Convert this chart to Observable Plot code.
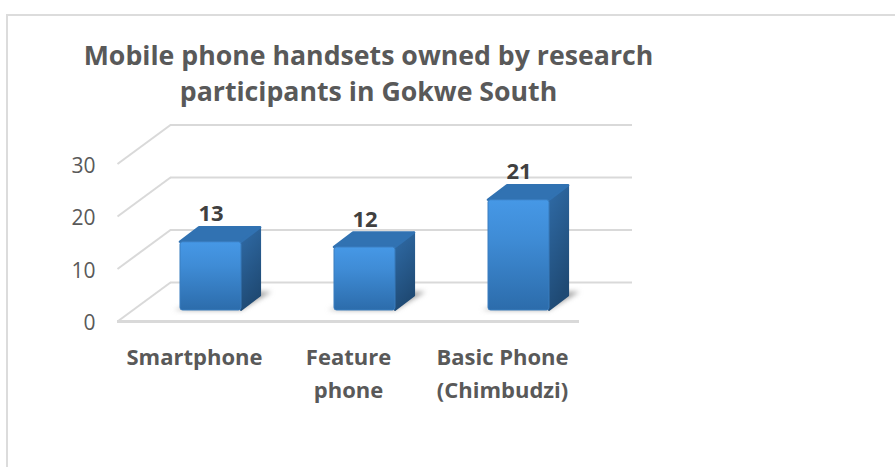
<!DOCTYPE html>
<html>
<head>
<meta charset="utf-8">
<script src="https://cdn.jsdelivr.net/npm/d3@7"></script>
<script src="https://cdn.jsdelivr.net/npm/@observablehq/plot@0.6"></script>
<style>
  html, body { margin: 0; padding: 0; background: #fff; overflow: hidden; }
  body { width: 895px; height: 467px; position: relative; }
  #frame { position: absolute; left: 6px; top: 14px; right: 0; bottom: 0;
           border-left: 2px solid #dcdcdc; border-top: 2px solid #dcdcdc; }
  #title { position: absolute; left: 0; top: 37px; width: 737px; margin: 0; text-align: center;
           font: 700 26.7px/36px "Open Sans", sans-serif; color: #595959; }
  #chart { position: absolute; left: 0; top: 108px; }
  #chart svg { display: block; }
</style>
</head>
<body>
<div id="frame"></div>
<h1 id="title">Mobile phone handsets owned by research<br>participants in Gokwe South</h1>
<div id="chart"></div>
<script>
// Handsets per category
const categories = ["Smartphone", "Feature\nphone", "Basic Phone\n(Chimbudzi)"];
const handsets = [13, 12, 21];
const yTicks = [0, 10, 20, 30];

// Oblique projection of the chart box, in scale units:
// x counts category slots, y counts handsets.
const wallDx = 0.344, wallDy = 7.43;     // depth of the floor
const barWidth = 0.396;                  // share of a slot
const barShiftX = 0.107, barShiftY = 2.1; // bars stand inside the floor
const barDx = 0.124, barDy = 2.76;       // depth of a bar

const bars = categories.map((name, i) => {
  const x1 = i + 0.5 + barShiftX - barWidth / 2;
  return {name, value: handsets[i], i, x1, x2: x1 + barWidth, y0: barShiftY, y1: barShiftY + handsets[i]};
});

// Side and top faces as two-point parallelograms per bar
const sideFaces = bars.flatMap(b => [
  {i: b.i, x: b.x2, y1: b.y0, y2: b.y1},
  {i: b.i, x: b.x2 + barDx, y1: b.y0 + barDy, y2: b.y1 + barDy}
]);
const topFaces = bars.flatMap(b => [
  {i: b.i, y: b.y1, x1: b.x1, x2: b.x2},
  {i: b.i, y: b.y1 + barDy, x1: b.x1 + barDx, x2: b.x2 + barDx}
]);
const shadows = bars.flatMap(b => [
  {i: b.i, y: b.y0, x1: b.x1 - 0.04, x2: b.x2},
  {i: b.i, y: b.y0 + barDy * 1.25, x1: b.x2, x2: b.x2 + barDx * 1.6}
]);

// Gradients for the shaded faces
function gradients() {
  const defs = d3.create("svg:defs");
  const add = (id, x2, y2, stops) => {
    const g = defs.append("linearGradient").attr("id", id)
      .attr("x1", 0).attr("y1", 0).attr("x2", x2).attr("y2", y2);
    stops.forEach(([o, c]) => g.append("stop").attr("offset", o).attr("stop-color", c));
  };
  add("face-front", 0, 1, [[0, "#4698e6"], [0.35, "#3f8cd6"], [1, "#2c6cab"]]);
  add("face-side", 0.3, 1, [[0, "#306ca8"], [1, "#1f4a74"]]);
  return defs.node();
}

const gridColor = "#d9d9d9";
const chart = Plot.plot({
  width: 895,
  height: 359,
  marginLeft: 117,
  marginRight: 263,
  marginTop: 16.5,
  marginBottom: 146,
  style: {fontFamily: '"Open Sans", sans-serif', background: "transparent", overflow: "visible"},
  x: {domain: [0, 3 + wallDx], axis: null},
  y: {domain: [0, 30 + wallDy], axis: null},
  marks: [
    gradients,
    // Back wall and side wall gridlines
    Plot.ruleY(yTicks, {y: d => d + wallDy, x1: wallDx, x2: 3 + wallDx, stroke: gridColor, strokeWidth: 2}),
    Plot.link(yTicks, {x1: 0, y1: d => d, x2: wallDx, y2: d => d + wallDy, stroke: gridColor, strokeWidth: 2}),
    // Front edge of the floor
    Plot.ruleY([0], {x1: 0, x2: 3, stroke: gridColor, strokeWidth: 3}),
    // Value axis
    Plot.axisY({ticks: yTicks, anchor: "left", tickSize: 0, tickPadding: 22, label: null, fontSize: 21, fill: "#595959", dy: 2}),
    // Contact shadows on the floor
    Plot.areaX(shadows, {y: "y", x1: "x1", x2: "x2", z: "i", fill: "#7a7a7a", fillOpacity: 0.7, imageFilter: "blur(2.5px)"}),
    // Bars: side, top, front
    Plot.areaY(sideFaces, {x: "x", y1: "y1", y2: "y2", z: "i", fill: "url(#face-side)", stroke: "url(#face-side)", strokeWidth: 2, strokeLinejoin: "round"}),
    Plot.areaX(topFaces, {y: "y", x1: "x1", x2: "x2", z: "i", fill: "#3172b2", stroke: "#3172b2", strokeWidth: 2.5, strokeLinejoin: "round"}),
    Plot.rect(bars, {x1: "x1", x2: "x2", y1: "y0", y2: "y1", fill: "url(#face-front)", stroke: "#3a7dbf", strokeWidth: 1, r: 2.5}),
    // Value labels above the bars
    Plot.text(bars, {x: d => (d.x1 + d.x2) / 2, y: "y1", text: d => String(d.value), dy: -28, fontSize: 22, fontWeight: 700, fill: "#404040"}),
    // Category labels under the floor
    Plot.text(bars, {x: d => d.i + 0.5, y: 0, text: "name", lineAnchor: "top", dy: 20, lineHeight: 1.5, fontSize: 22, fontWeight: 700, fill: "#595959"})
  ]
});
document.getElementById("chart").append(chart);
</script>
</body>
</html>
